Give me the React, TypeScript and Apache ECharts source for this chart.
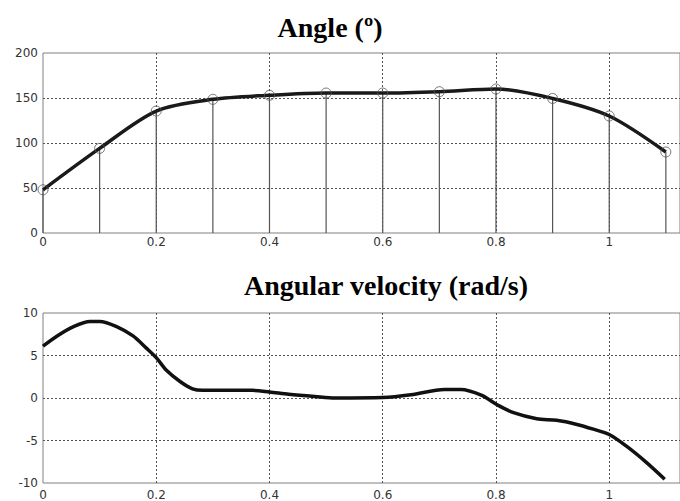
import React, { useEffect, useRef } from 'react';
import * as echarts from 'echarts';

// Angle (degrees) sampled every 0.1 s
const angleTime = [0, 0.1, 0.2, 0.3, 0.4, 0.5, 0.6, 0.7, 0.8, 0.9, 1.0, 1.1];
const angleValues = [48, 94, 135.5, 148.5, 153, 155.5, 155.5, 157, 160, 149.5, 130, 90];

// Angular velocity (rad/s), traced curve
const velocityTime = [
  0, 0.025, 0.054, 0.083, 0.1, 0.13, 0.159, 0.182, 0.2, 0.218, 0.242, 0.264, 0.282,
  0.369, 0.4, 0.434, 0.48, 0.516, 0.6, 0.65, 0.709, 0.738, 0.774, 0.802, 0.831,
  0.872, 0.907, 0.943, 0.972, 1.0, 1.031, 1.066, 1.098,
];
const velocityValues = [
  6.1, 7.3, 8.4, 9.0, 9.0, 8.4, 7.3, 5.9, 4.75, 3.26, 1.94, 1.08, 0.9,
  0.9, 0.71, 0.45, 0.18, 0.0, 0.05, 0.37, 1.0, 1.0, 0.33, -0.79, -1.73,
  -2.44, -2.63, -3.11, -3.67, -4.3, -5.7, -7.6, -9.55,
];

const xMin = 0;
const xMax = 1.125;
const xInterval = 0.2;
const angleMin = 0;
const angleMax = 200;
const angleInterval = 50;
const velMin = -10;
const velMax = 10;
const velInterval = 5;

const titleTop = 'Angle (º)';
const titleBottom = 'Angular velocity (rad/s)';

export default function App() {
  const ref = useRef<HTMLDivElement>(null);
  useEffect(() => {
    document.body.style.margin = '0';
    const chart = echarts.init(ref.current!, null, { renderer: 'svg' });

    const labelStyle = {
      fontFamily: 'DejaVu Sans',
      fontSize: 12,
      color: '#333',
    };
    const splitLine = {
      show: true,
      showMinLine: false,
      showMaxLine: false,
      lineStyle: { color: '#555', width: 1, type: [2, 2] as any },
    };

    const xAxisBase = (gridIndex: number, margin: number) => ({
      type: 'value',
      gridIndex,
      min: xMin,
      max: xMax,
      interval: xInterval,
      axisLine: { show: false },
      axisTick: { show: false },
      axisLabel: { ...labelStyle, margin, showMaxLabel: false },
      splitLine,
    });
    const yAxisBase = (gridIndex: number, min: number, max: number, interval: number) => ({
      type: 'value',
      gridIndex,
      min,
      max,
      interval,
      axisLine: { show: false },
      axisTick: { show: false },
      axisLabel: { ...labelStyle, margin: 5 },
      splitLine,
    });

    const angleData = angleTime.map((t, i) => [t, angleValues[i]]);
    const velData = velocityTime.map((t, i) => [t, velocityValues[i]]);

    chart.setOption({
      animation: false,
      grid: [
        { left: 43, top: 53, right: -4, height: 180, show: true, borderColor: '#808080', borderWidth: 1, backgroundColor: '#fff' },
        { left: 43, top: 313, right: -4, height: 178, show: true, borderColor: '#808080', borderWidth: 1, backgroundColor: '#fff' },
      ],
      xAxis: [xAxisBase(0, 3), xAxisBase(1, 6)],
      yAxis: [
        yAxisBase(0, angleMin, angleMax, angleInterval),
        yAxisBase(1, velMin, velMax, velInterval),
      ],
      graphic: [
        {
          type: 'text',
          x: 330,
          y: 27,
          style: {
            text: titleTop,
            fontFamily: 'Liberation Serif',
            fontWeight: 'bold',
            fontSize: 28,
            fill: '#000',
            align: 'center',
            verticalAlign: 'middle',
          },
        },
        {
          type: 'text',
          x: 386,
          y: 285,
          style: {
            text: titleBottom,
            fontFamily: 'Liberation Serif',
            fontWeight: 'bold',
            fontSize: 28,
            fill: '#000',
            align: 'center',
            verticalAlign: 'middle',
          },
        },
      ],
      series: [
        {
          type: 'custom',
          xAxisIndex: 0,
          yAxisIndex: 0,
          data: angleData,
          encode: { x: 0, y: 1 },
          z: 2,
          renderItem: (params: any, api: any) => {
            const top = api.coord([api.value(0), api.value(1)]);
            const base = api.coord([api.value(0), 0]);
            return {
              type: 'line',
              shape: { x1: top[0], y1: top[1], x2: base[0], y2: base[1] },
              style: { stroke: '#555', lineWidth: 1.2 },
            };
          },
        },
        {
          type: 'line',
          xAxisIndex: 0,
          yAxisIndex: 0,
          data: angleData,
          smooth: 0.3,
          showSymbol: false,
          lineStyle: { color: '#1a1a1a', width: 3.5 },
          z: 3,
        },
        {
          type: 'scatter',
          xAxisIndex: 0,
          yAxisIndex: 0,
          data: angleData,
          symbol: 'circle',
          symbolSize: 10,
          itemStyle: { color: 'rgba(0,0,0,0)', borderColor: '#555', borderWidth: 1 },
          z: 4,
        },
        {
          type: 'line',
          xAxisIndex: 1,
          yAxisIndex: 1,
          data: velData,
          smooth: 0.3,
          showSymbol: false,
          lineStyle: { color: '#111', width: 3.5 },
          z: 3,
        },
      ],
    });
    return () => chart.dispose();
  }, []);
  return <div ref={ref} style={{ width: 680, height: 501 }} />;
}
